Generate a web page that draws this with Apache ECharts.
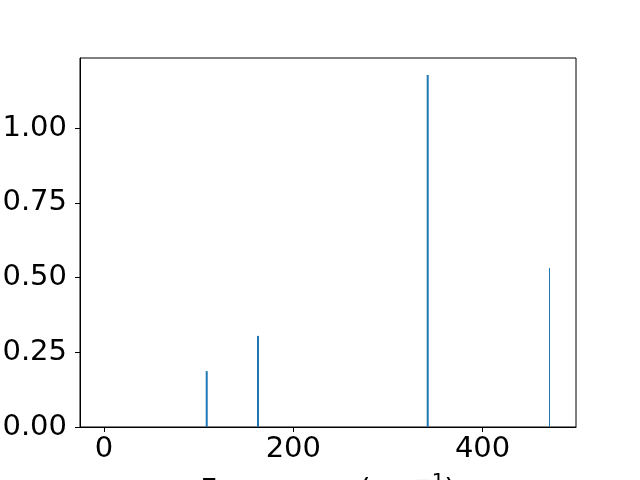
<!DOCTYPE html>
<html>
<head>
<meta charset="utf-8">
<script src="https://cdn.jsdelivr.net/npm/echarts@6/dist/echarts.min.js"></script>
<style>html,body{margin:0;padding:0;background:#fff}#c{width:640px;height:480px}</style>
</head>
<body>
<div id="c"></div>
<script>
var freqs = [108.5, 162.7, 342.0];
var intensities = [0.187, 0.305, 1.178];
var edgeFreqs = [470.7];
var edgeIntensities = [0.532];
var xTicks = [0, 200, 400];
var yTicks = [0, 0.25, 0.5, 0.75, 1.0];

var chart = echarts.init(document.getElementById('c'), null, {renderer: 'canvas'});
function stems(width) {
  return function (params, api) {
    var x = api.value(0), y = api.value(1);
    var p0 = api.coord([x, 0]);
    var p1 = api.coord([x, y]);
    return {
      type: 'line',
      shape: {x1: p0[0], y1: p0[1], x2: p1[0], y2: p1[1]},
      style: {stroke: '#1f77b4', lineWidth: width}
    };
  };
}
var font = 'DejaVu Sans';
chart.setOption({
  animation: false,
  grid: {left: 80, right: 64, top: 58, bottom: 53, show: true, borderColor: '#000', borderWidth: 1,
    containLabel: false, outerBoundsMode: 'none'},
  xAxis: {
    type: 'value', min: -25.4, max: 498.7,
    splitLine: {show: false},
    axisLine: {show: true, onZero: false, lineStyle: {color: '#000', width: 1}},
    axisTick: {show: true, length: 5, lineStyle: {color: '#000'}, customValues: xTicks},
    axisLabel: {customValues: xTicks, color: '#000', fontFamily: font, fontSize: 29, margin: 8},
    name: '{a|Frequency (cm}{s|−1}{a|)}',
    nameLocation: 'middle', nameGap: 45,
    nameTextStyle: {
      rich: {
        a: {fontFamily: font, fontSize: 29, color: '#000', verticalAlign: 'bottom'},
        s: {fontFamily: font, fontSize: 20, color: '#000', verticalAlign: 'top', padding: [0, 0, 14, 0]}
      }
    }
  },
  yAxis: {
    type: 'value', min: 0, max: 1.235,
    splitLine: {show: false},
    axisLine: {show: true, onZero: false, lineStyle: {color: '#000', width: 1}},
    axisTick: {show: true, length: 5, lineStyle: {color: '#000'}, customValues: yTicks},
    axisLabel: {customValues: yTicks, color: '#000', fontFamily: font, fontSize: 29, margin: 13,
      formatter: function (v) { return v.toFixed(2); }}
  },
  series: [
    {type: 'custom', renderItem: stems(2), data: freqs.map(function (f, i) { return [f, intensities[i]]; })},
    {type: 'custom', renderItem: stems(1), data: edgeFreqs.map(function (f, i) { return [f, edgeIntensities[i]]; })}
  ]
});
</script>
</body>
</html>
